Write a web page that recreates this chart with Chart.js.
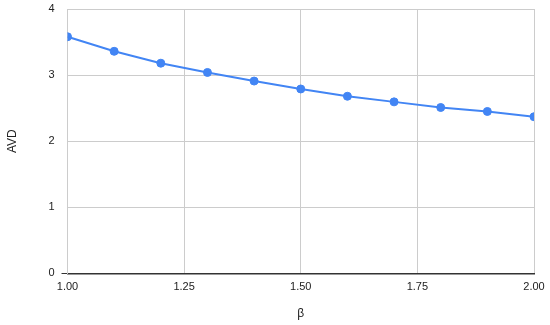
<!DOCTYPE html>
<html>
<head>
<meta charset="utf-8">
<script src="https://cdn.jsdelivr.net/npm/chart.js@4.4.1/dist/chart.umd.min.js"></script>
<style>
  html, body { margin: 0; padding: 0; background: #fff; }
  #wrap { width: 550px; height: 325px; }
</style>
</head>
<body>
<div id="wrap"><canvas id="chart" width="550" height="325"></canvas></div>
<script>
/* β vs AVD — line with markers */

const betaValues = [1.0, 1.1, 1.2, 1.3, 1.4, 1.5, 1.6, 1.7, 1.8, 1.9, 2.0];
const avdValues  = [3.58, 3.36, 3.18, 3.04, 2.91, 2.79, 2.68, 2.595, 2.51, 2.45, 2.37];
const xTicks     = [1.0, 1.25, 1.5, 1.75, 2.0];
const yTicks     = [0, 1, 2, 3, 4];

const BLUE = "#4285F4";
const GRID = "#cccccc";
const TEXT = "#222222";

Chart.defaults.font.family = "'Liberation Sans', Arial, sans-serif";
Chart.defaults.font.size   = 11;
Chart.defaults.color       = TEXT;

const points = betaValues.map((b, i) => ({ x: b, y: avdValues[i] }));

new Chart(document.getElementById("chart"), {
  type: "scatter",
  data: {
    datasets: [{
      data: points,
      showLine: true,
      borderColor: BLUE,
      backgroundColor: BLUE,
      borderWidth: 2,
      pointRadius: 4,
      pointBorderWidth: 1,
      pointHoverRadius: 4,
      tension: 0,
    }],
  },
  options: {
    responsive: false,
    animation: false,
    layout: { padding: { left: 5, right: 16, top: 9, bottom: 4 } },
    plugins: { legend: { display: false }, tooltip: { enabled: false } },
    scales: {
      x: {
        type: "linear",
        min: xTicks[0],
        max: xTicks[xTicks.length - 1],
        afterBuildTicks: axis => { axis.ticks = xTicks.map(v => ({ value: v })); },
        afterFit: axis => { axis.paddingLeft = 0; axis.paddingRight = 0; },
        ticks: {
          padding: 7,
          maxRotation: 0,
          callback: v => Number(v).toFixed(2),
        },
        grid: { color: GRID, drawTicks: false },
        border: { color: "#333333", width: 1.5 },
        title: { display: true, text: "β", padding: { top: 6, bottom: 0 }, font: { size: 12 } },
      },
      y: {
        min: yTicks[0],
        max: yTicks[yTicks.length - 1],
        afterBuildTicks: axis => { axis.ticks = yTicks.map(v => ({ value: v })); },
        afterFit: axis => { axis.paddingTop = 0; axis.paddingBottom = 0; },
        ticks: { padding: 7 },
        grid: {
          color: GRID,
          tickLength: 6,
          tickColor: c => (c.tick && c.tick.value === 0 ? "#333333" : "rgba(0,0,0,0)"),
        },
        border: { color: GRID },
        title: { display: true, text: "AVD", padding: { top: 0, bottom: 22 }, font: { size: 12 } },
      },
    },
  },
});
</script>
</body>
</html>
